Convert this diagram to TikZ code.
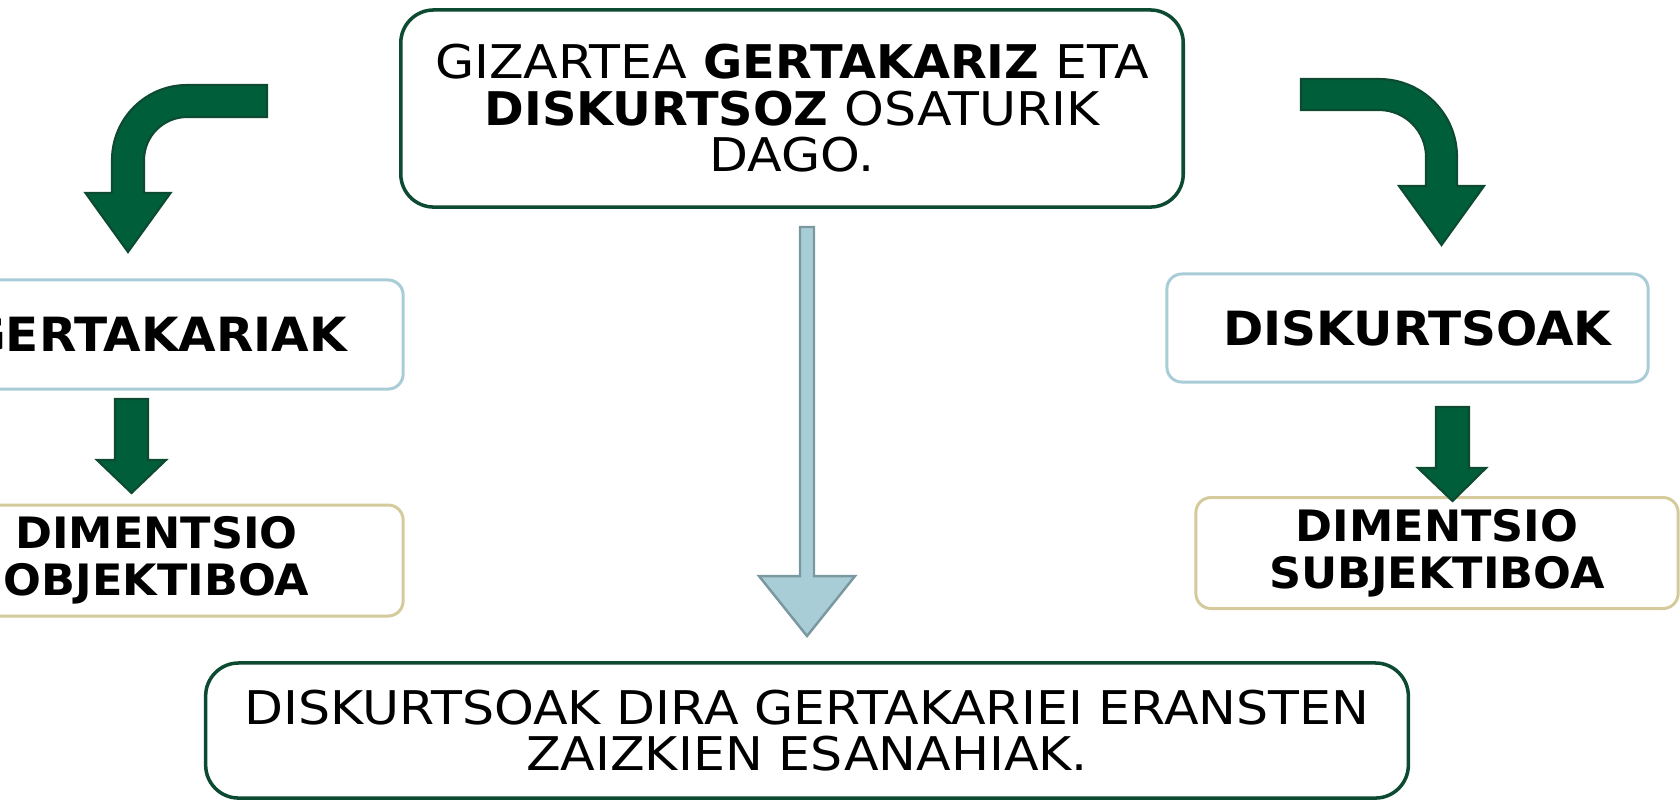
\documentclass[tikz,border=0pt]{standalone}
\usepackage{fontspec}
\setmainfont{DejaVu Sans}[FakeStretch=1.09,BoldFeatures={FakeStretch=1.03}]
\usetikzlibrary{calc}
\usetikzlibrary{shapes,arrows}

\definecolor{darkgreen}{RGB}{0,94,58}
\definecolor{greenline}{RGB}{12,74,50}
\definecolor{paleblue}{RGB}{169,205,215}
\definecolor{blueline}{RGB}{122,152,160}
\definecolor{boxtan}{RGB}{212,202,156}

\tikzset{
  mainbox/.style={draw=greenline, line width=1pt, rounded corners=0.33cm, align=center,
    font=\fontsize{13.2pt}{13.2pt}\selectfont},
  conceptbox/.style={draw=paleblue, line width=0.85pt, rounded corners=0.15cm,
    font=\bfseries\fontsize{13.4pt}{14pt}\selectfont},
  dimbox/.style={draw=boxtan, line width=0.85pt, rounded corners=0.15cm, align=center,
    font=\bfseries\fontsize{12.3pt}{13.3pt}\selectfont},
  greenarrow/.style={fill=darkgreen, draw=greenline, line width=0.6pt},
  bluearrow/.style={fill=paleblue, draw=blueline, line width=0.7pt}
}

\begin{document}
\begin{tikzpicture}[x=0.01cm,y=-0.01cm]
    \useasboundingbox (0,0) rectangle (1680,802);

    \node [mainbox, minimum width=7.82cm, minimum height=1.97cm] (gizartea) at (792,108.5)
      {GIZARTEA \textbf{GERTAKARIZ} ETA\\ \textbf{DISKURTSOZ} OSATURIK\\ DAGO.};
    \node [mainbox, minimum width=12.02cm, minimum height=1.35cm] (esanahiak) at (807,730.5)
      {DISKURTSOAK DIRA GERTAKARIEI ERANSTEN\\ ZAIZKIEN ESANAHIAK.};

    \node [conceptbox, minimum width=4.93cm, minimum height=1.09cm] (gertakariak) at (156.5,334.5) {GERTAKARIAK};
    \node [conceptbox, minimum width=4.81cm, minimum height=1.08cm] (diskurtsoak) at (1407.5,328) {\hspace*{0.2cm}DISKURTSOAK};
    \node [dimbox, minimum width=4.93cm, minimum height=1.09cm] (objektiboa) at (156.5,560.5) {DIMENTSIO\\ OBJEKTIBOA};
    \node [dimbox, minimum width=4.82cm, minimum height=1.10cm] (subjektiboa) at (1437,553) {DIMENTSIO\\ SUBJEKTIBOA};

    % bent arrow to the left
    \coordinate (L0) at (267,85);
    \coordinate (L1) at (187,85);
    \coordinate (L2) at (112,160);
    \coordinate (L3) at (144,160);
    \coordinate (L4) at (187,117);
    \coordinate (L5) at (267,117);
    \draw [greenarrow] (L0) -- (L1) .. controls (145.6,85) and (112,118.6) .. (L2)
      -- (112,193) -- (85.5,193) -- (128,252) -- (170.5,193) -- (144,193) -- (L3)
      .. controls (144,136.3) and (163.3,117) .. (L4) -- (L5) -- cycle;

    % bent arrow to the right
    \coordinate (R0) at (1301,79);
    \coordinate (R1) at (1379,79);
    \coordinate (R2) at (1457,157);
    \coordinate (R3) at (1426,157);
    \coordinate (R4) at (1379,110);
    \coordinate (R5) at (1301,110);
    \draw [greenarrow] (R0) -- (R1) .. controls (1422.1,79) and (1457,113.9) .. (R2)
      -- (1457,186) -- (1484,186) -- (1441.5,245) -- (1399,186) -- (1426,186) -- (R3)
      .. controls (1426,131) and (1405,110) .. (R4) -- (R5) -- cycle;

    % straight arrows
    \draw [greenarrow] (115,399) -- (148,399) -- (148,460) -- (166,460) -- (131.5,493)
      -- (97,460) -- (115,460) -- cycle;
    \draw [greenarrow] (1436,407) -- (1469,407) -- (1469,468) -- (1486,468) -- (1452.5,501)
      -- (1418,468) -- (1436,468) -- cycle;
    \draw [bluearrow] (800,227) -- (814,227) -- (814,576) -- (855,576) -- (807,636)
      -- (759,576) -- (800,576) -- cycle;
\end{tikzpicture}
\end{document}
